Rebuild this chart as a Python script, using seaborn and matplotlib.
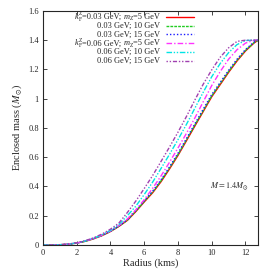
import pandas as pd
import matplotlib.pyplot as plt
import seaborn as sns

sns.set_style("ticks")
plt.rcParams['font.family'] = ['Liberation Serif', 'DejaVu Serif']
plt.rcParams['mathtext.fontset'] = 'stix'

# radius grid (kms) shared by all curves
radius = [0, 0.5, 1, 1.5, 2, 2.5, 3, 3.5, 4, 4.5, 5, 5.5, 6, 6.5, 7, 7.5,
          8, 8.5, 9, 9.5, 10, 10.5, 11, 11.5, 12, 12.5, 12.75]

# enclosed mass (M_sun)
m_003_5 = [0, 0.0002, 0.0015, 0.005, 0.013, 0.025, 0.042, 0.064, 0.092, 0.127, 0.168,
           0.228, 0.294, 0.357, 0.433, 0.52, 0.612, 0.712, 0.813, 0.913, 1.013, 1.096,
           1.18, 1.258, 1.326, 1.38, 1.40]
m_003_10 = [0, 0.0002, 0.0015, 0.005, 0.013, 0.025, 0.043, 0.065, 0.093, 0.128, 0.170,
            0.231, 0.298, 0.362, 0.439, 0.526, 0.618, 0.718, 0.819, 0.919, 1.019, 1.102,
            1.186, 1.263, 1.33, 1.383, 1.40]
m_003_15 = [0, 0.0002, 0.0016, 0.0052, 0.0133, 0.0255, 0.0435, 0.066, 0.094, 0.130, 0.173,
            0.235, 0.303, 0.368, 0.446, 0.534, 0.627, 0.727, 0.828, 0.929, 1.028, 1.111,
            1.194, 1.27, 1.336, 1.387, 1.40]
m_006_5 = [0, 0.0002, 0.0017, 0.0052, 0.0135, 0.026, 0.044, 0.067, 0.096, 0.133, 0.178,
           0.24, 0.31, 0.388, 0.473, 0.566, 0.663, 0.763, 0.868, 0.98, 1.09, 1.185,
           1.27, 1.335, 1.38, 1.40, 1.40]
m_006_10 = [0, 0.0002, 0.0018, 0.0055, 0.014, 0.027, 0.046, 0.07, 0.10, 0.14, 0.20,
            0.265, 0.345, 0.43, 0.524, 0.62, 0.72, 0.824, 0.935, 1.045, 1.15, 1.24,
            1.315, 1.37, 1.398, 1.40, 1.40]
m_006_15 = [0, 0.0002, 0.002, 0.006, 0.015, 0.029, 0.049, 0.075, 0.108, 0.15, 0.222,
            0.30, 0.386, 0.475, 0.572, 0.67, 0.771, 0.878, 0.991, 1.10, 1.197, 1.283,
            1.348, 1.392, 1.40, 1.40, 1.40]

kf_vals = ['0.03', '0.03', '0.03', '0.06', '0.06', '0.06']   # k_F^Z in GeV
mz_vals = ['5', '10', '15', '5', '10', '15']                 # m_Z in GeV
masses = [m_003_5, m_003_10, m_003_15, m_006_5, m_006_10, m_006_15]
colors = ['#ff0000', '#22cc22', '#1a1aff', '#ff33ff', '#00e5e5', '#a040b0']
styles = ['-', (0, (2, 0.8)), (0, (1, 1.5)), (0, (4, 1.5, 1, 1.5)),
          (0, (4, 1.2, 1, 1.2, 1, 1.2)), (0, (1, 1.3, 1, 1.3, 3, 1.3))]

fig = plt.figure(figsize=(2.74, 2.74), dpi=100)
ax = fig.add_axes([0.157, 0.106, 0.785, 0.854])

for m, c, ls in zip(masses, colors, styles):
    df = pd.DataFrame({'r': radius, 'M': m})
    sns.lineplot(data=df, x='r', y='M', ax=ax, color=c, linestyle=ls, lw=1.0,
                 sort=False, estimator=None)

FS, SS = 6.0, 4.0   # key font size, script size


def piece(txt, xref, yref, dx, dy, size=FS, style='normal'):
    # text placed right-to-left, left of xref, bottom level taken from yref
    return ax.annotate(txt, xy=(0, 0), xycoords=(xref, yref), xytext=(dx, dy),
                       textcoords='offset points', fontsize=size, fontstyle=style,
                       ha='right', va='bottom')


# gnuplot-style key: right-aligned text, sample line to the right
key_rows = [0.9756, 0.9372, 0.9000, 0.8615, 0.8239, 0.7863]
for i, (y, c, ls) in enumerate(zip(key_rows, colors, styles)):
    ax.plot([0.572, 0.70], [y, y], transform=ax.transAxes, color=c,
            linestyle=ls, lw=1.0)
    if i % 3:
        ax.text(0.545, y, f'{kf_vals[i]} GeV; {mz_vals[i]} GeV',
                transform=ax.transAxes, fontsize=FS, ha='right', va='center')
        continue
    base = ax.text(0.545, y, f'={mz_vals[i]} GeV', transform=ax.transAxes,
                   fontsize=FS, ha='right', va='center')
    sub = piece('Z', base, base, -0.3, -0.2, size=SS)
    em = piece('m', sub, base, -0.1, 0, style='italic')
    mid = piece(f'={kf_vals[i]} GeV;', em, base, -1.5, 0)
    sub_f = piece('F', mid, base, -0.3, -0.8, size=SS)
    sup_z = piece('Z', mid, base, -0.3, 3.3, size=SS)
    piece('k', sup_z, base, -0.1, 0, style='italic')

ax.set_xlim(0, 12.75)
ax.set_ylim(0, 1.6)
ax.set_xticks(range(0, 13, 2))
ax.set_yticks([0, 0.2, 0.4, 0.6, 0.8, 1.0, 1.2, 1.4, 1.6])
ax.set_yticklabels(['0', '0.2', '0.4', '0.6', '0.8', '1', '1.2', '1.4', '1.6'])
ax.tick_params(direction='in', top=True, right=True, length=3, width=0.6,
               labelsize=6, pad=3)
for s in ax.spines.values():
    s.set_linewidth(0.8)

ax.set_xlabel('Radius (kms)', fontsize=7.5, labelpad=1)
ax.set_ylabel(r'Enclosed mass ($M_{\odot}$)', fontsize=7.5, labelpad=3)

ax.text(12.2, 0.40, r'$M = 1.4M_{\odot}$', fontsize=6, ha='right', va='center')

fig.savefig('out.png', dpi=100)
